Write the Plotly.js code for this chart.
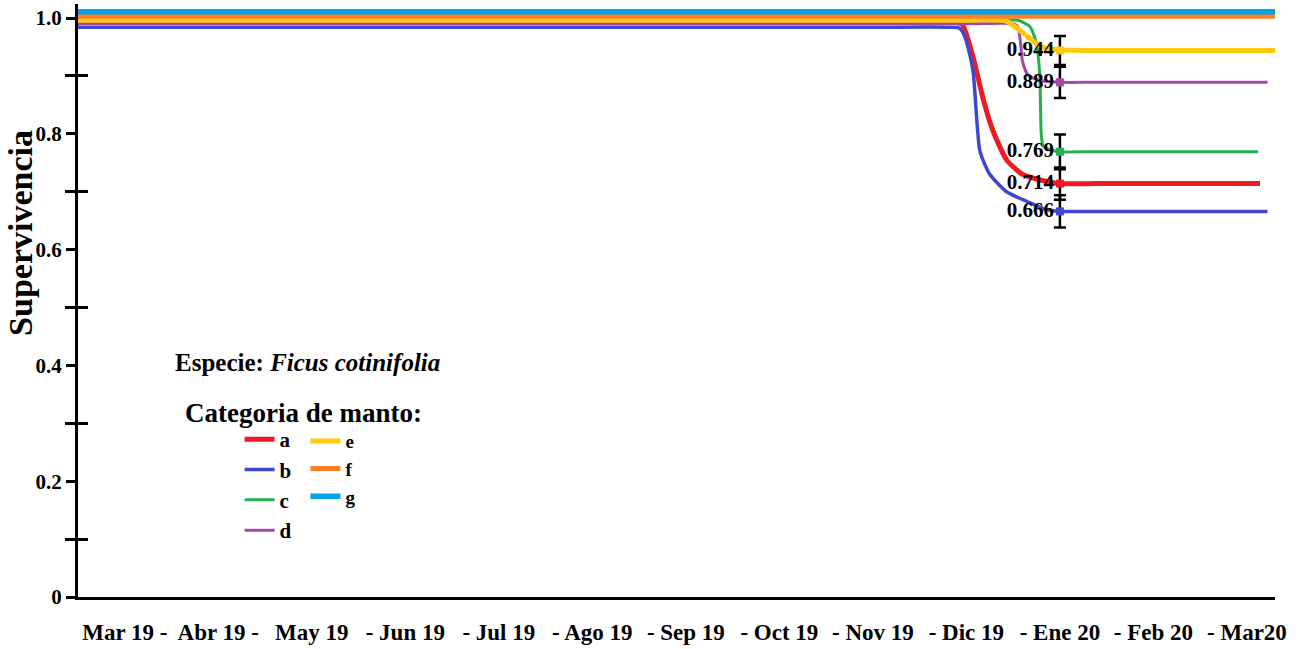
<!DOCTYPE html>
<html>
<head>
<meta charset="utf-8">
<script src="https://cdn.plot.ly/plotly-3.0.1.min.js"></script>
<style>
  html, body { margin: 0; padding: 0; background: #fff; }
  #chart { width: 1304px; height: 649px; }
</style>
</head>
<body>
<div id="chart"></div>
<script>
// Month axis: index 0 = Mar 19 ... 12 = Mar 20
const monthIdx = [0, 1, 2, 3, 4, 5, 6, 7, 8, 9, 10, 11, 12];
const monthLabels = ["Mar 19 -", "Abr 19 -", "May 19", "- Jun 19", "- Jul 19", "- Ago 19",
  "- Sep 19", "- Oct 19", "- Nov 19", "- Dic 19", "- Ene 20", "- Feb 20", "- Mar20"];

// Survival curves per mantle category (x = month index, y = survival)
const aX = [-0.5, 8.0, 8.8, 8.95, 9.07, 9.18, 9.28, 9.43, 9.6, 9.85, 10, 10.4, 12.14];
const aY = [0.993, 0.993, 0.993, 0.99, 0.933, 0.86, 0.807, 0.755, 0.73, 0.718, 0.714, 0.714, 0.714];

const bX = [-0.5, 8.0, 8.8, 8.93, 8.99, 9.07, 9.145, 9.25, 9.43, 9.65, 9.85, 10, 10.4, 12.22];
const bY = [0.984, 0.984, 0.984, 0.982, 0.965, 0.91, 0.77, 0.73, 0.70, 0.683, 0.669, 0.666, 0.666, 0.666];

const cX = [-0.5, 9.0, 9.55, 9.68, 9.75, 9.785, 9.8, 9.82, 9.9, 10, 10.4, 12.12];
const cY = [0.996, 0.996, 0.996, 0.985, 0.955, 0.90, 0.80, 0.779, 0.772, 0.769, 0.769, 0.769];

const dX = [-0.5, 9.0, 9.5, 9.55, 9.58, 9.6, 9.66, 9.79, 10, 10.4, 12.22];
const dY = [0.990, 0.990, 0.990, 0.985, 0.955, 0.925, 0.901, 0.892, 0.889, 0.889, 0.889];

const eX = [-0.5, 9.0, 9.42, 9.6, 9.79, 9.97, 10.4, 12.3];
const eY = [0.996, 0.996, 0.995, 0.975, 0.951, 0.945, 0.944, 0.944];

const fX = [-0.5, 12.3];
const fY = [1.003, 1.003];

const gX = [-0.5, 12.3];
const gY = [1.011, 1.011];

// Final survival (Ene 20) with error bars
const finalX = [10, 10, 10, 10, 10];
const finalY = [0.714, 0.666, 0.769, 0.889, 0.944];
const finalErr = [0.028, 0.028, 0.030, 0.027, 0.025];
const finalLabels = ["0.714", "0.666", "0.769", "0.889", "0.944"];

const colors = {
  a: "#ED1C24", b: "#3F48CC", c: "#22B14C", d: "#A349A4",
  e: "#FFC90E", f: "#FF7F27", g: "#00A2E8"
};
const finalColors = [colors.a, colors.b, colors.c, colors.d, colors.e];

const SERIF = "Liberation Serif, Times New Roman, serif";

function curve(name, x, y, color, width, legend, rank) {
  return {
    type: "scatter", mode: "lines", name: "<b>" + name + "</b>",
    x: x, y: y, legend: legend, legendrank: rank,
    line: { color: color, width: width, shape: "spline", smoothing: 0.6 },
    hoverinfo: "x+y+name"
  };
}

const traces = [
  curve("a", aX, aY, colors.a, 5, "legend", 1),
  curve("c", cX, cY, colors.c, 3, "legend", 3),
  curve("b", bX, bY, colors.b, 3.5, "legend", 2),
  curve("d", dX, dY, colors.d, 3, "legend", 4),
  curve("e", eX, eY, colors.e, 5, "legend2", 5),
  curve("f", fX, fY, colors.f, 5, "legend2", 6),
  curve("g", gX, gY, colors.g, 5.5, "legend2", 7),
  {
    type: "scatter", mode: "markers+text", showlegend: false,
    x: finalX, y: finalY, yaxis: "y2",
    text: finalLabels, textposition: "middle left",
    textfont: { family: SERIF, size: 21, color: "#000", weight: "bold" },
    marker: { symbol: "square", size: 8, color: finalColors },
    error_y: { type: "data", array: finalErr, visible: true, color: "#000", thickness: 2.5, width: 6 },
    hoverinfo: "y"
  }
];

const yRange = [0, 1.0242];
const minorVals = [0.1, 0.3, 0.5, 0.7, 0.9];

const layout = {
  width: 1304, height: 649,
  margin: { l: 78, r: 29, t: 4, b: 52 },
  paper_bgcolor: "#fff", plot_bgcolor: "#fff",
  font: { family: SERIF, color: "#000" },
  showlegend: true,
  xaxis: {
    range: [-0.5, 12.3],
    tickmode: "array", tickvals: monthIdx, ticktext: monthLabels,
    ticks: "", showgrid: false, zeroline: false,
    showline: true, linecolor: "#000", linewidth: 3,
    tickfont: { family: SERIF, size: 23, color: "#000", weight: "bold" },
    ticklabelstandoff: 12
  },
  yaxis: {
    range: yRange,
    tickmode: "array", tickvals: [0, 0.2, 0.4, 0.6, 0.8, 1.0],
    ticktext: ["0", "0.2", "0.4", "0.6", "0.8", "1.0"],
    ticks: "outside", ticklen: 9, tickwidth: 2.5, tickcolor: "#000",
    minor: { tickmode: "array", tickvals: minorVals, ticks: "outside", ticklen: 10, tickwidth: 2.5, tickcolor: "#000" },
    showgrid: false, zeroline: false,
    showline: true, linecolor: "#000", linewidth: 3,
    tickfont: { family: SERIF, size: 21, color: "#000", weight: "bold" }
  },
  yaxis2: {
    overlaying: "y", side: "left", range: yRange,
    tickmode: "array", tickvals: minorVals,
    ticks: "inside", ticklen: 10, tickwidth: 2.5, tickcolor: "#000",
    showticklabels: false, showgrid: false, zeroline: false, showline: false
  },
  legend: {
    x: 0.135, y: 0.300, xanchor: "left", yanchor: "top",
    bgcolor: "rgba(0,0,0,0)", tracegroupgap: 0,
    font: { family: SERIF, size: 21, color: "#000" }
  },
  legend2: {
    x: 0.190, y: 0.295, xanchor: "left", yanchor: "top",
    bgcolor: "rgba(0,0,0,0)", tracegroupgap: 0,
    font: { family: SERIF, size: 19, color: "#000" }
  },
  annotations: [
    {
      xref: "paper", yref: "paper", x: -0.0476, y: 0.614,
      xanchor: "center", yanchor: "middle", textangle: -90, showarrow: false,
      text: "<b>Supervivencia</b>",
      font: { family: SERIF, size: 34, color: "#000" }
    },
    {
      xref: "paper", yref: "paper", x: 0.0794, y: 0.396,
      xanchor: "left", yanchor: "middle", showarrow: false,
      text: "<b>Especie: <i>Ficus cotinifolia</i></b>",
      font: { family: SERIF, size: 25, color: "#000" }
    },
    {
      xref: "paper", yref: "paper", x: 0.0877, y: 0.310,
      xanchor: "left", yanchor: "middle", showarrow: false,
      text: "<b>Categoria de manto:</b>",
      font: { family: SERIF, size: 27, color: "#000" }
    }
  ]
};

Plotly.newPlot("chart", traces, layout, { displayModeBar: false });
</script>
</body>
</html>
